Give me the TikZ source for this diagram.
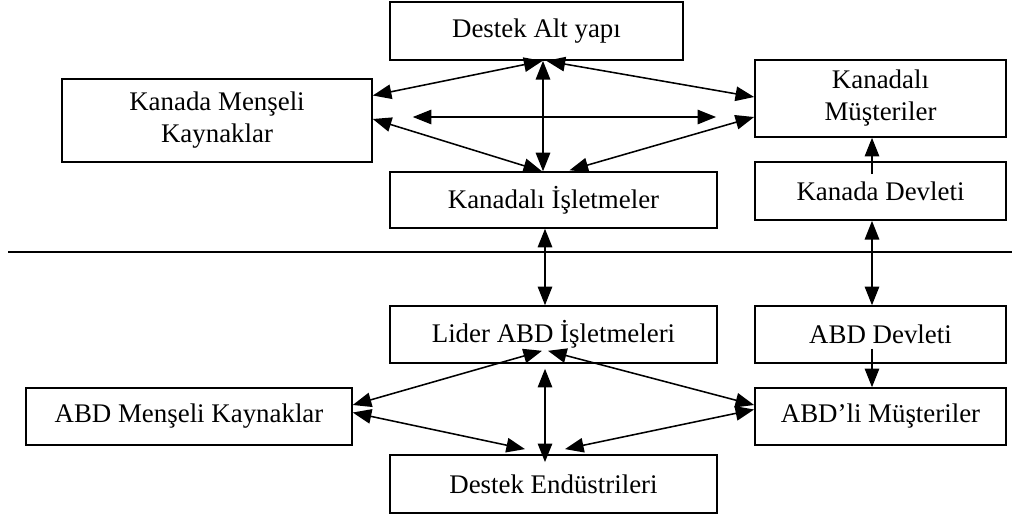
\documentclass[tikz,border=0pt]{standalone}
\usepackage{fontspec}
\setmainfont{Liberation Serif}
\usetikzlibrary{arrows.meta,calc}

\begin{document}
\begin{tikzpicture}[x=0.017cm,y=-0.017cm,
		>={Triangle[length=9pt,width=7pt]},
		kutu/.style={draw, line width=0.75pt, align=center, inner sep=2pt,
			font=\fontsize{13}{15.5}\selectfont},
		ok/.style={line width=0.75pt}]
			\useasboundingbox (0,0) rectangle (1012,517);
			% Kanada
			\node[kutu, minimum width=4.98cm, minimum height=0.99cm] (destek) at (536.5,31) {Destek Alt yapı};
			\node[kutu, minimum width=5.27cm, minimum height=1.41cm] (kmk) at (217,120.5) {Kanada Menşeli\\Kaynaklar};
			\node[kutu, minimum width=4.27cm, minimum height=1.31cm] (kmus) at (880.5,98.5) {Kanadalı\\Müşteriler};
			\node[kutu, minimum width=5.56cm, minimum height=0.95cm] (kisl) at (553.5,200) {Kanadalı İşletmeler};
			\node[kutu, minimum width=4.27cm, minimum height=0.99cm] (kdev) at (880.5,191) {Kanada Devleti};
			% ABD
			\node[kutu, minimum width=5.56cm, minimum height=0.97cm] (lisl) at (553.5,334.5) {Lider ABD İşletmeleri};
			\node[kutu, minimum width=4.27cm, minimum height=0.97cm] (adev) at (880.5,334.5) {ABD Devleti};
			\node[kutu, minimum width=5.54cm, minimum height=0.97cm] (amk) at (189,416.5) {ABD Menşeli Kaynaklar};
			\node[kutu, minimum width=4.27cm, minimum height=0.97cm] (amus) at (880.5,416.5) {ABD’li Müşteriler};
			\node[kutu, minimum width=5.56cm, minimum height=0.99cm] (dend) at (553.5,484) {Destek Endüstrileri};

			\draw[ok] (8,252) -- (1012,252);

			\draw[ok,<->] (kmk.east) ++(0,-25) -- ($(destek.south)+(6,0)$);
			\draw[ok,<->] ($(destek.south)+(10,0)$) -- ($(kmus.west)+(0,-1.5)$);
			\draw[ok,<->] ($(destek.south)+(6.5,0)$) -- ($(kisl.north)+(-10.5,0)$);
			\coordinate (hsol) at ($(kmk.east)+(40,-3.5)$);
			\coordinate (hsag) at ($(kmus.west)+(-38,18.5)$);
			\draw[ok,<->] (hsol) -- (hsag);
			\draw[ok,<->] ($(kmk.east)+(0,-1.5)$) -- ($(kisl.north)+(-11.5,0)$);
			\draw[ok,<->] ($(kmus.west)+(0,18.5)$) -- ($(kisl.north)+(16,-1)$);
			\draw[ok,<->] ($(kisl.south)+(-8.5,0)$) -- ($(lisl.north)+(-8.5,0)$);
			\draw[ok,->] ($(kdev.north)+(-8.5,13)$) -- ($(kmus.south)+(-8.5,0)$);
			\draw[ok,<->] ($(kdev.south)+(-8.5,0)$) -- ($(adev.north)+(-8.5,0)$);
			\draw[ok,->] ($(adev.south)+(-8.5,-15)$) -- ($(amus.north)+(-8.5,0)$);
			\draw[ok,<->] ($(lisl.south)+(-11.5,-13)$) -- ($(amk.east)+(0,-11.5)$);
			\draw[ok,<->] ($(lisl.south)+(-5.5,-13)$) -- ($(amus.west)+(0,-11.5)$);
			\draw[ok,<->] ($(lisl.south)+(-8.5,5)$) -- ($(dend.north)+(-8.5,8)$);
			\draw[ok,<->] ($(amk.east)+(0,-4)$) -- ($(dend.north)+(-28.5,-5)$);
			\draw[ok,<->] ($(amus.west)+(0,-7)$) -- ($(dend.north)+(11.5,-5)$);
\end{tikzpicture}
\end{document}
